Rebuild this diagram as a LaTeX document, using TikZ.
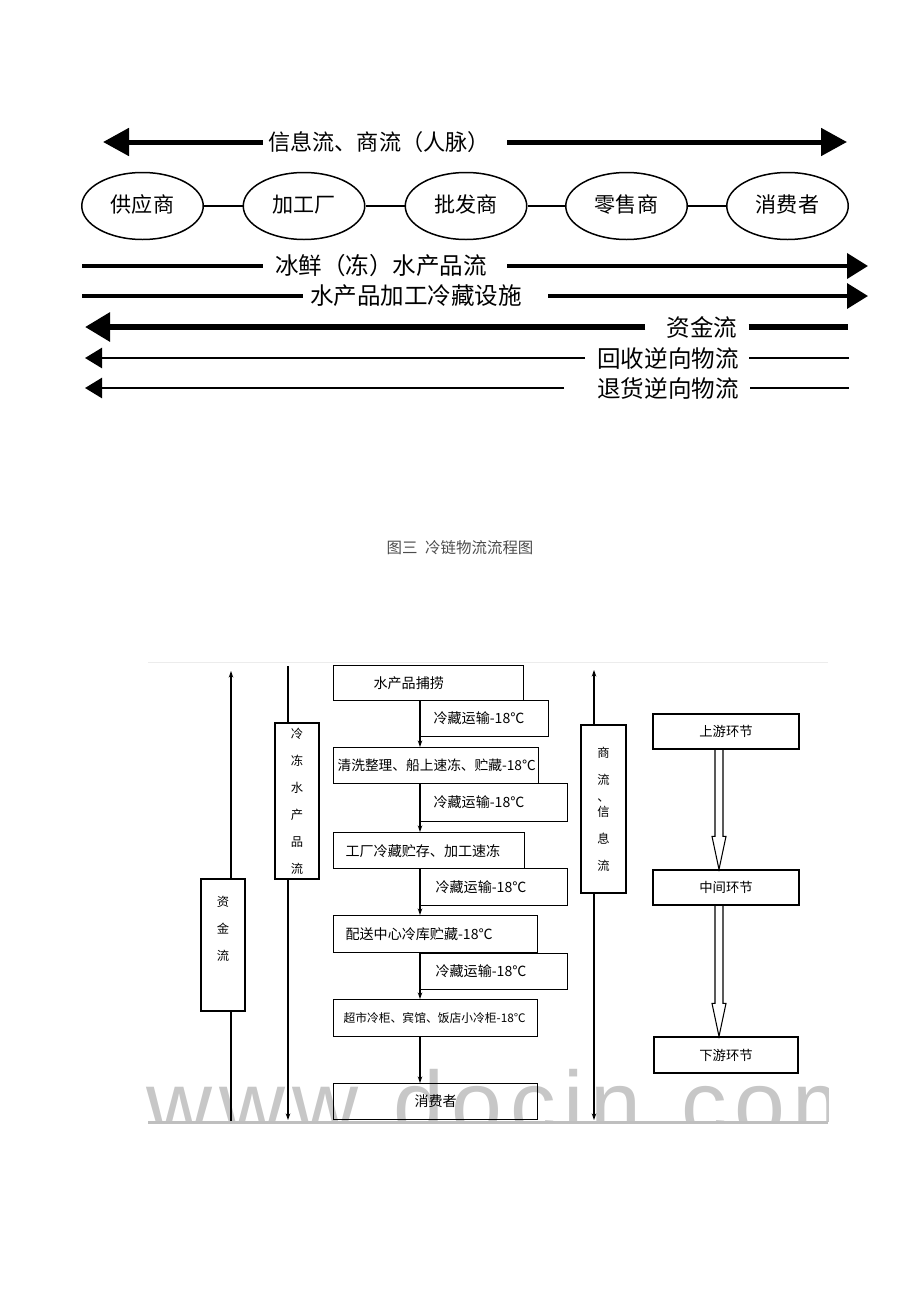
\documentclass[tikz,border=0pt]{standalone}
\usepackage{fontspec}
\setmainfont{Noto Sans CJK SC}
\newfontfamily\wmfont[LetterSpace=8]{Liberation Sans}
\usetikzlibrary{arrows.meta,shapes.geometric}

\begin{document}
\begin{tikzpicture}[x=0.2mm, y=-0.2mm,
    flowtext/.style={inner sep=0pt, font={\fontsize{13.4}{16}\selectfont}},
    party/.style={draw, ellipse, line width=0.85pt, minimum width=24.3mm, minimum height=13.4mm, inner sep=0pt, font={\fontsize{12}{14}\selectfont}},
    stage/.style={draw, line width=0.7pt, fill=white, anchor=north west, align=left, inner ysep=0pt, font={\fontsize{8}{10}\selectfont}},
    sidebox/.style={draw, line width=0.7pt, fill=white, minimum width=8.8mm, inner sep=0pt, align=center, font={\fontsize{7}{15.4}\selectfont}},
    tier/.style={draw, line width=0.7pt, minimum width=29.2mm, minimum height=7mm, inner sep=0pt, font={\fontsize{7.6}{9}\selectfont}},
    thin line/.style={line width=0.6pt},
    small tip/.style={-{Stealth[length=1.3mm, width=0.9mm]}},
  ]
  \useasboundingbox (0,0) rectangle (920,1302);

  % Information and trade flow, both ways
  \coordinate (info-l) at (103,142);
  \coordinate (info-r) at (847,142);
  \node[flowtext, font={\fontsize{12.6}{15}\selectfont}] (info) at (379,142) {信息流、商流（人脉）};
  \draw[line width=1mm, -{Triangle[length=5.2mm, width=5.4mm]}] ([xshift=-1mm]info.west) -- (info-l);
  \draw[line width=1mm, -{Triangle[length=5.2mm, width=5.4mm]}] ([xshift=3.4mm]info.east) -- (info-r);

  % Chain members
  \foreach \i/\x/\txt in {1/142.5/供应商, 2/304/加工厂, 3/466/批发商, 4/626.5/零售商, 5/787.5/消费者}
    \node[party] (p\i) at (\x,206) {\raisebox{1mm}{\txt}};
  \foreach \pa/\pb in {1/2, 2/3, 3/4, 4/5}
    \draw[line width=0.8pt] (p\pa) -- (p\pb);

  % Fresh (frozen) product flow
  \coordinate (ice-l) at (82,266);
  \coordinate (ice-r) at (868,266);
  \node[flowtext] (ice) at (381,266) {冰鲜（冻）水产品流};
  \draw[line width=0.8mm] (ice-l) -- ([xshift=-2.4mm]ice.west);
  \draw[line width=0.8mm, -{Triangle[length=4.2mm, width=5mm]}] ([xshift=4mm]ice.east) -- (ice-r);

  % Processing and cold storage
  \coordinate (fac-l) at (82,296);
  \coordinate (fac-r) at (868,296);
  \node[flowtext] (fac) at (416,296) {水产品加工冷藏设施};
  \draw[line width=0.7mm] (fac-l) -- ([xshift=-1.4mm]fac.west);
  \draw[line width=0.7mm, -{Triangle[length=4.2mm, width=5mm]}] ([xshift=5.2mm]fac.east) -- (fac-r);

  % Money flow, back to the supplier
  \coordinate (cash-l) at (85,327);
  \coordinate (cash-r) at (848,327);
  \node[flowtext] (cash) at (702,327) {资金流};
  \draw[line width=1.2mm, -{Triangle[length=5mm, width=5.6mm]}] ([xshift=-4.2mm]cash.west) -- (cash-l);
  \draw[line width=1.2mm] ([xshift=2.2mm]cash.east) -- (cash-r);

  % Reverse flows
  \coordinate (rec-l) at (85,358);
  \coordinate (rec-r) at (849,358);
  \node[flowtext] (rec) at (668,358) {回收逆向物流};
  \draw[line width=0.5mm, -{Triangle[length=3.4mm, width=4mm]}] ([xshift=-2.4mm]rec.west) -- (rec-l);
  \draw[line width=0.5mm] ([xshift=2mm]rec.east) -- (rec-r);

  \coordinate (ret-l) at (85,388);
  \coordinate (ret-r) at (849,388);
  \node[flowtext] (ret) at (668,388) {退货逆向物流};
  \draw[line width=0.5mm, -{Triangle[length=3.4mm, width=4mm]}] ([xshift=-6.6mm]ret.west) -- (ret-l);
  \draw[line width=0.5mm] ([xshift=2.2mm]ret.east) -- (ret-r);

  % Caption
  \node[text=black!70, font={\fontsize{8.8}{10}\selectfont}] (cap) at (460,548) {图三\hspace{0.5em}冷链物流流程图};

  % Frame of the lower figure
  \draw[gray!15, line width=0.4pt] (148,662) -- (828,662);

  % Capital flow, upwards
  \node[sidebox, minimum height=26.4mm] (zj) at (223,945) {资\\金\\流\\[1.2mm]\mbox{}};
  \coordinate (zj-top) at (231,671);
  \coordinate (zj-bot) at (231,1122);
  \draw[thin line, small tip] (zj.north -| zj-top) -- (zj-top);
  \draw[thin line] (zj.south -| zj-bot) -- (zj-bot);

  % Frozen product flow, downwards
  \node[sidebox, minimum height=31.2mm] (ld) at (297,801) {冷\\冻\\水\\产\\品\\流};
  \coordinate (ld-top) at (288,666);
  \coordinate (ld-bot) at (288,1120);
  \draw[thin line] (ld-top) -- (ld.north -| ld-top);
  \draw[thin line, small tip] (ld.south -| ld-bot) -- (ld-bot);

  % Trade and information flow, both ways
  \node[sidebox, minimum width=9mm, minimum height=33.6mm] (sl) at (603.5,809) {商\\流\\[-5.7pt]、\\[-6.9pt]信\\息\\流};
  \coordinate (sl-top) at (594,670);
  \coordinate (sl-bot) at (594,1120);
  \draw[thin line, small tip] (sl.north -| sl-top) -- (sl-top);
  \draw[thin line, small tip] (sl.south -| sl-bot) -- (sl-bot);

  % Cold chain stages
  \node[stage, inner xsep=8mm, text width=22mm, minimum height=7mm] (b1) at (333,665) {水产品捕捞};
  \node[stage, inner xsep=2.6mm, text width=20.4mm, minimum height=7.2mm] (t1) at (420,700) {冷藏运输-18℃};
  \node[stage, inner xsep=0.8mm, text width=39.4mm, minimum height=7.2mm, font={\fontsize{7.8}{10}\selectfont}] (b2) at (333,747) {\mbox{清洗整理、船上速冻、贮藏-18℃}};
  \node[stage, inner xsep=2.6mm, text width=24.2mm, minimum height=7.6mm] (t2) at (420,783) {冷藏运输-18℃};
  \node[stage, inner xsep=2.4mm, text width=33.4mm, minimum height=7.2mm] (b3) at (333,832) {工厂冷藏贮存、加工速冻};
  \node[stage, inner xsep=3mm, text width=23.4mm, minimum height=7.4mm] (t3) at (420,868) {冷藏运输-18℃};
  \node[stage, inner xsep=2.4mm, text width=36mm, minimum height=7.4mm] (b4) at (333,915) {配送中心冷库贮藏-18℃};
  \node[stage, inner xsep=3mm, text width=23.4mm, minimum height=7.2mm] (t4) at (420,953) {冷藏运输-18℃};
  \node[stage, inner xsep=2mm, text width=36.8mm, minimum height=7.4mm, font={\fontsize{6.7}{8}\selectfont}] (b5) at (333,999) {\mbox{超市冷柜、宾馆、饭店小冷柜-18℃}};
  \node[stage, inner xsep=2mm, text width=36.8mm, minimum height=7.2mm, align=center] (b6) at (333,1083) {消费者};

  \foreach \ta/\nb in {t1/b2, t2/b3, t3/b4, t4/b5}
    \draw[thin line, small tip] (\ta.north west) -- (\nb.north -| \ta.west);
  \draw[thin line, small tip] (b5.south -| t4.west) -- (b6.north -| t4.west);

  % Upstream to downstream
  \node[tier] (up) at (726,731.5) {上游环节};
  \node[tier] (mid) at (726,887.5) {中间环节};
  \node[tier, minimum width=28.8mm, minimum height=7.2mm] (down) at (726,1055) {下游环节};
  \foreach \ta/\nb in {up/mid, mid/down}
    \draw[thin line] ([xshift=-2.2mm]\ta.south) -- ([xshift=-2.2mm, yshift=6.6mm]\nb.north) -- ++(-3,0)
      -- ([xshift=-1.4mm]\nb.north) -- ++(7,-33) -- ++(-3,0) -- ([xshift=-0.6mm]\ta.south);

  % Watermark, cut off at the bottom rule
  \begin{scope}
    \clip (140,1000) rectangle (828,1121);
    \node[anchor=base west, inner sep=0pt, font={\wmfont\fontsize{52}{52}\selectfont}, text=black, text opacity=0.22] (wm) at (146,1135) {www.docin.com};
  \end{scope}
  \draw[gray!50, line width=0.6mm] (148,1122) -- (828,1122);
\end{tikzpicture}
\end{document}
